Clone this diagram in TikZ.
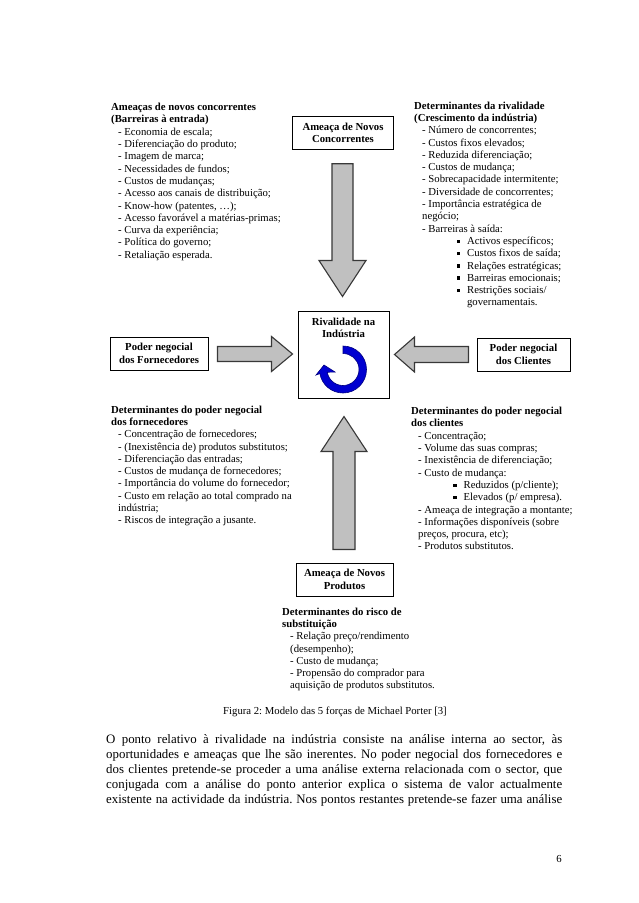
\documentclass[tikz,border=0pt]{standalone}
\usepackage{fontspec}
\setmainfont{Liberation Serif}
\usepackage{xcolor}
\usetikzlibrary{calc}
\definecolor{arrowgrey}{HTML}{C0C0C0}
\definecolor{arrowedge}{HTML}{383838}
\definecolor{ringblue}{HTML}{0000D0}
\definecolor{ringedge}{HTML}{000080}
\frenchspacing
\newcommand{\itm}{\hspace*{7pt}}
\newcommand{\blt}[1]{\hspace*{#1}\rule[1.5pt]{3.4pt}{3.4pt}\hspace*{7pt}}
% block arrow: start, tip, half shaft, half head, head length
\newcommand{\forcearrow}[5]{%
  \coordinate (S) at #1;
  \coordinate (T) at #2;
  \coordinate (H) at ($(T)!#5pt!(S)$);
  \draw[forcearrow] ($(S)!#3pt!90:(T)$) -- ($(H)!#3pt!90:(T)$) -- ($(H)!#4pt!90:(T)$) -- (T) -- ($(H)!#4pt!-90:(T)$) -- ($(H)!#3pt!-90:(T)$) -- ($(S)!#3pt!-90:(T)$) -- cycle;
}
\tikzset{
  forcebox/.style={draw, line width=1pt, inner sep=0pt, align=center, font=\fontsize{10.72}{12.4}\selectfont\bfseries},
  liftedbox/.style={forcebox, execute at begin node={\rule{0pt}{14pt}}},
  forcearrow/.style={draw=arrowedge, fill=arrowgrey, line width=1.1pt, line join=miter},
  listtext/.style={anchor=north west, inner sep=0pt, align=left, font=\fontsize{10.72}{12.3}\selectfont},
}
\begin{document}
\begin{tikzpicture}[x=1pt, y=-1pt]
  \useasboundingbox[fill=white] (0,0) rectangle (638,903);
  % the five boxes
  \node[forcebox, minimum width=101pt, minimum height=32.5pt] (entrants) at (343,133) {Ameaça de Novos\\Concorrentes};
  \node[forcebox, minimum width=91pt, minimum height=87pt] (rivalry) at (343.5,354.5) {};
  \node[forcebox, draw=none, anchor=north] (rivalrytext) at (343.5,317.5) {Rivalidade na\\Indústria};
  \node[liftedbox, minimum width=98pt, minimum height=33pt] (suppliers) at (159,353.5) {Poder negocial\\dos Fornecedores};
  \node[liftedbox, minimum width=93pt, minimum height=33pt] (buyers) at (523.5,354.5) {Poder negocial\\dos Clientes};
  \node[liftedbox, minimum width=97pt, minimum height=33pt] (substitutes) at (344.5,579.5) {Ameaça de Novos\\Produtos};
  % grey arrows towards the centre
  \forcearrow{($(entrants.south)+(-0.5,14)$)}{($(rivalry.north)+(-1,-14)$)}{10.5}{23.5}{36}
  \forcearrow{($(substitutes.north)+(-0.5,-13)$)}{($(rivalry.south)+(0.5,18)$)}{11}{23}{35}
  \forcearrow{($(suppliers.east)+(9,0.5)$)}{($(rivalry.west)+(-5,-0.5)$)}{7.5}{17.5}{21}
  \forcearrow{($(buyers.west)+(-8,0)$)}{($(rivalry.east)+(5,0)$)}{8}{17.5}{20}
  % blue ring in the centre box
  \coordinate (ring) at (343,369.5);
  \draw[ringedge, fill=ringblue, line width=0.6pt, line join=miter] ($(ring)+(270:23.5)$) arc[start angle=270, end angle=530, radius=23.5] -- (316,375) -- (324,365) -- (335,372) -- ($(ring)+(170:16)$) arc[start angle=530, end angle=270, radius=16] -- cycle;
  % lists of determinants
  \node[listtext] (newtext) at (111,103) {\textbf{Ameaças de novos concorrentes}\\\textbf{(Barreiras à entrada)}\\
    \itm- Economia de escala;\\\itm- Diferenciação do produto;\\\itm- Imagem de marca;\\\itm- Necessidades de fundos;\\\itm- Custos de mudanças;\\\itm- Acesso aos canais de distribuição;\\\itm- Know-how (patentes, …);\\\itm- Acesso favorável a matérias-primas;\\\itm- Curva da experiência;\\\itm- Política do governo;\\\itm- Retaliação esperada.};
  \node[listtext] (rivaltext) at (414,101.5) {\textbf{Determinantes da rivalidade}\\\textbf{(Crescimento da indústria)}\\
    \itm\hspace*{1pt}- Número de concorrentes;\\\itm\hspace*{1pt}- Custos fixos elevados;\\\itm\hspace*{1pt}- Reduzida diferenciação;\\\itm\hspace*{1pt}- Custos de mudança;\\\itm\hspace*{1pt}- Sobrecapacidade intermitente;\\\itm\hspace*{1pt}- Diversidade de concorrentes;\\\itm\hspace*{1pt}- Importância estratégica de\\\itm\hspace*{1pt}negócio;\\\itm\hspace*{1pt}- Barreiras à saída:\\
    \blt{42.5pt}Activos específicos;\\\blt{42.5pt}Custos fixos de saída;\\\blt{42.5pt}Relações estratégicas;\\\blt{42.5pt}Barreiras emocionais;\\\blt{42.5pt}Restrições sociais/\\\hspace*{52.9pt}governamentais.};
  \node[listtext] (suppliertext) at (111,405.5) {\textbf{Determinantes do poder negocial}\\\textbf{dos fornecedores}\\
    \itm- Concentração de fornecedores;\\\itm- (Inexistência de) produtos substitutos;\\\itm- Diferenciação das entradas;\\\itm- Custos de mudança de fornecedores;\\\itm- Importância do volume do fornecedor;\\\itm- Custo em relação ao total comprado na\\\itm indústria;\\\itm- Riscos de integração a jusante.};
  \node[listtext] (buyertext) at (411,407) {\textbf{Determinantes do poder negocial}\\\textbf{dos clientes}\\
    \itm- Concentração;\\\itm- Volume das suas compras;\\\itm- Inexistência de diferenciação;\\\itm- Custo de mudança:\\
    \blt{42pt}Reduzidos (p/cliente);\\\blt{42pt}Elevados (p/ empresa).\\
    \itm- Ameaça de integração a montante;\\\itm- Informações disponíveis (sobre\\\itm preços, procura, etc);\\\itm- Produtos substitutos.};
  \node[listtext] (substitutetext) at (282,607.5) {\textbf{Determinantes do risco de}\\\textbf{substituição}\\
    \itm\hspace*{1pt}- Relação preço/rendimento\\\itm\hspace*{1pt}(desempenho);\\\itm\hspace*{1pt}- Custo de mudança;\\\itm\hspace*{1pt}- Propensão do comprador para\\\itm\hspace*{1pt}aquisição de produtos substitutos.};
  % caption, paragraph and page number
  \node[inner sep=0pt, font=\fontsize{10.72}{12.3}\selectfont] (caption) at (335,711.5) {Figura 2: Modelo das 5 forças de Michael Porter [3]};
  \node[anchor=north west, inner sep=0pt, text width=456pt, align=justify, font=\fontsize{12.87}{15}\selectfont] (para) at (106,734) {O ponto relativo à rivalidade na indústria consiste na análise interna ao sector, às\linebreak oportunidades e ameaças que lhe são inerentes. No poder negocial dos fornecedores e\linebreak dos clientes pretende-se proceder a uma análise externa relacionada com o sector, que\linebreak conjugada com a análise do ponto anterior explica o sistema de valor actualmente\linebreak existente na actividade da indústria. Nos pontos restantes pretende-se fazer uma análise\linebreak};
  \node[inner sep=0pt, font=\fontsize{10.72}{12.3}\selectfont] (pagenum) at (559,858.5) {6};
\end{tikzpicture}
\end{document}
